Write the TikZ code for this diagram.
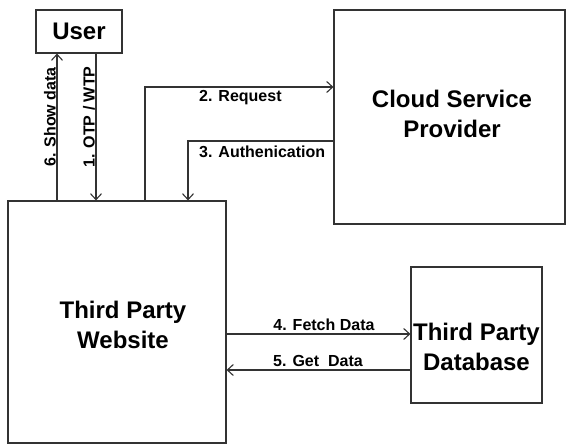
\documentclass[tikz,border=0pt]{standalone}
\usepackage{fontspec}
\setmainfont{Liberation Sans}
\usetikzlibrary{arrows.meta}
\definecolor{linec}{HTML}{333333}
\tikzset{
  box/.style={draw=linec, line width=1.1pt, rectangle, inner sep=0pt},
  bigtext/.style={font=\fontsize{24}{30}\selectfont\bfseries, align=center, inner sep=0pt},
  lbl/.style={font=\fontsize{16}{19}\selectfont\bfseries, inner sep=0pt},
  arr/.style={draw=linec, line width=1.1pt, -{Straight Barb[length=6pt,width=11pt]}},
  plain/.style={draw=linec, line width=1.1pt}
}
\begin{document}
\begin{tikzpicture}[x=1pt,y=-1pt]
\useasboundingbox (0,0) rectangle (566,445);
% boxes
\node[box, minimum width=86pt, minimum height=43pt] (user) at (79,31.5) {};
\node[box, minimum width=231pt, minimum height=214pt] (cloud) at (449.5,117) {};
\node[box, minimum width=218pt, minimum height=242pt] (web) at (117,322) {};
\node[box, minimum width=131pt, minimum height=136pt] (db) at (476.5,335) {};
% box texts
\node[bigtext] (usert) at (79,31.5) {User};
\node[bigtext] (cloudt) at (452,114) {Cloud Service\\Provider};
\node[bigtext] (webt) at (123,325) {Third Party\\Website};
\node[bigtext] (dbt) at (476.5,347) {Third Party\\Database};
% connectors
\draw[arr] ([xshift=17pt]user.south) -- ([xshift=17pt]user.south |- web.north);
\draw[arr] ([xshift=-22pt]user.south |- web.north) -- ([xshift=-22pt]user.south);
\draw[arr] ([xshift=28pt]web.north) |- ([yshift=30pt]cloud.west);
\draw[arr] ([yshift=-24pt]cloud.west) -| ([xshift=71pt]web.north);
\draw[arr] ([yshift=-12pt]web.east) -- ([yshift=-12pt]web.east -| db.west);
\draw[arr] ([yshift=-48pt]web.east -| db.west) -- ([yshift=-48pt]web.east);
% labels
\node[lbl, rotate=90] (l6) at (50,117) {6. Show data};
\node[lbl, rotate=90] (l1) at (89,117) {1. OTP / WTP};
\node[lbl, anchor=west] (l2) at (199,98) {2. Request};
\node[lbl, anchor=west] (l3) at (199,152) {3. Authenication};
\node[lbl] (l4) at (324,325) {4. Fetch Data};
\node[lbl] (l5) at (318,361) {5. Get\ \ Data};
\end{tikzpicture}
\end{document}
